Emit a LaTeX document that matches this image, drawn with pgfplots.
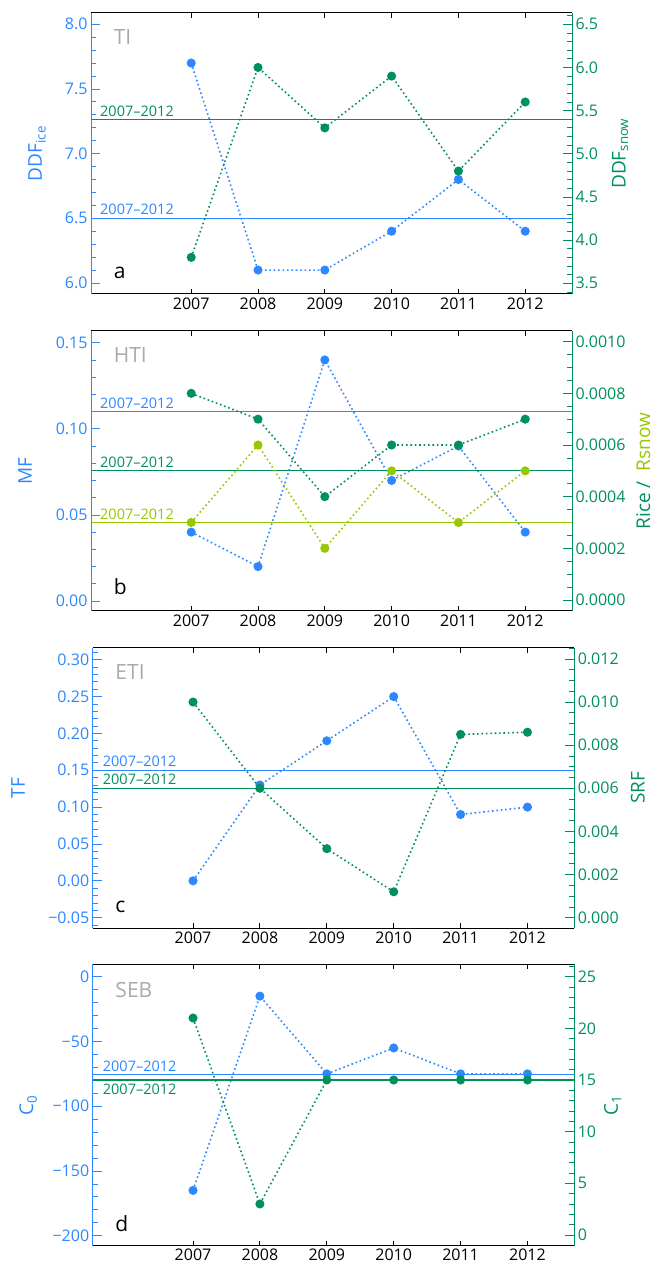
\documentclass[border=0pt]{standalone}
\usepackage{fontspec}
\setmainfont{Open Sans}
\usepackage{pgfplots}
\pgfplotsset{compat=1.18}
\definecolor{cblue}{RGB}{45,135,255}
\definecolor{cgreen}{RGB}{0,145,90}
\definecolor{clime}{RGB}{150,200,0}
\definecolor{cgray}{RGB}{170,170,170}
\newcommand{\tfont}{\fontsize{16}{18}\selectfont}
\newcommand{\lfont}{\fontsize{19}{22}\selectfont}
\newcommand{\sfont}{\fontsize{14.5}{16}\selectfont}
\newcommand{\bfontt}{\fontsize{21}{24}\selectfont}
\pgfplotsset{
  common/.style={scale only axis, width=481pt, height=281pt, xmin=2005.5, xmax=2012.7,
    tick align=inside, major tick length=9pt, minor tick length=5pt,
    ticklabel style={font=\tfont}, scaled y ticks=false, scaled x ticks=false,
    /pgf/number format/assume math mode=true, clip=false},
  leftax/.style={common, axis x line=box, axis y line*=left,
    x axis line style={black, line width=1pt, -},
    y axis line style={cblue, line width=1pt, -},
    xtick={2007,2008,2009,2010,2011,2012}, xticklabels={2007,2008,2009,2010,2011,2012},
    xtick pos=both, xticklabel pos=lower,
    xtick style={black, line width=1pt, /pgfplots/major tick length=5pt},
    xticklabel style={black},
    ytick style={cblue, line width=0.8pt},
    minor y tick style={cblue, line width=0.8pt},
    yticklabel style={cblue}},
  rightax/.style={common, axis x line=none, axis y line*=right, xtick=\empty,
    y axis line style={cgreen, line width=1pt, -},
    ytick style={cgreen, line width=0.8pt},
    minor y tick style={cgreen, line width=0.8pt},
    yticklabel style={cgreen}},
  ser/.style={mark=*, mark size=3.7pt, line width=1.6pt, dash pattern=on 1.6pt off 2.8pt, mark options={solid}},
  mean/.style={line width=1.2pt, no marks},
}
\begin{document}
\begin{tikzpicture}
\path[use as bounding box] (0,0) rectangle (655pt,1268pt);
% ---------------- panel a ----------------
\begin{axis}[leftax, at={(91pt,974pt)}, anchor=south west, height=281pt,
  ymin=5.915, ymax=8.087, ytick={6.0,6.5,7.0,7.5,8.0}, yticklabels={6.0,6.5,7.0,7.5,8.0},
  minor ytick={6.1,6.2,6.3,6.4,6.6,6.7,6.8,6.9,7.1,7.2,7.3,7.4,7.6,7.7,7.8,7.9}]
\addplot[mean, cblue] coordinates {(2005.5,6.5) (2012.7,6.5)};
\addplot[ser, cblue] coordinates {(2007,7.7) (2008,6.1) (2009,6.1) (2010,6.4) (2011,6.8) (2012,6.4)};
\node[anchor=south west, inner sep=0pt, font=\sfont, text=cblue, xshift=9pt, yshift=3pt] at (axis cs:2005.5,6.5) {2007–2012};
\node[anchor=west, font=\bfontt, text=cgray] at (axis description cs:0.04,0.915) {TI};
\node[anchor=west, font=\bfontt] at (axis description cs:0.04,0.075) {a};
\node[rotate=90, font=\lfont, text=cblue] at (axis description cs:-0.112,0.5) {DDF\textsubscript{ice}};
\end{axis}
\begin{axis}[rightax, at={(91pt,974pt)}, anchor=south west, height=281pt,
  ymin=3.376, ymax=6.631, ytick={3.5,4.0,4.5,5.0,5.5,6.0,6.5}, yticklabels={3.5,4.0,4.5,5.0,5.5,6.0,6.5},
  minor ytick={3.4,3.6,3.7,3.8,3.9,4.1,4.2,4.3,4.4,4.6,4.7,4.8,4.9,5.1,5.2,5.3,5.4,5.6,5.7,5.8,5.9,6.1,6.2,6.3,6.4,6.6}]
\addplot[mean, cgreen] coordinates {(2005.5,5.4) (2012.7,5.4)};
\addplot[ser, cgreen] coordinates {(2007,3.8) (2008,6.0) (2009,5.3) (2010,5.9) (2011,4.8) (2012,5.6)};
\node[anchor=south west, inner sep=0pt, font=\sfont, text=cgreen, xshift=9pt, yshift=2.5pt] at (axis cs:2005.5,5.4) {2007–2012};
\node[rotate=90, font=\lfont, text=cgreen] at (axis description cs:1.100,0.5) {DDF\textsubscript{snow}};
\end{axis}
% ---------------- panel b ----------------
\begin{axis}[leftax, at={(91pt,657pt)}, anchor=south west, height=280pt,
  ymin=-0.0058, ymax=0.1568, ytick={0,0.05,0.10,0.15}, yticklabels={0.00,0.05,0.10,0.15},
  minor ytick={0.01,0.02,0.03,0.04,0.06,0.07,0.08,0.09,0.11,0.12,0.13,0.14}]
\addplot[mean, cblue] coordinates {(2005.5,0.11) (2012.7,0.11)};
\addplot[ser, cblue] coordinates {(2007,0.04) (2008,0.02) (2009,0.14) (2010,0.07) (2011,0.09) (2012,0.04)};
\node[anchor=south west, inner sep=0pt, font=\sfont, text=cblue, xshift=9pt, yshift=3pt] at (axis cs:2005.5,0.11) {2007–2012};
\node[anchor=west, font=\bfontt, text=cgray] at (axis description cs:0.04,0.914) {HTI};
\node[anchor=west, font=\bfontt] at (axis description cs:0.04,0.086) {b};
\node[rotate=90, font=\lfont, text=cblue] at (axis description cs:-0.137,0.5) {MF};
\end{axis}
\begin{axis}[rightax, at={(91pt,657pt)}, anchor=south west, height=280pt,
  ymin=-0.0000426, ymax=0.0010414, ytick={0,0.0002,0.0004,0.0006,0.0008,0.0010},
  yticklabels={0.0000,0.0002,0.0004,0.0006,0.0008,0.0010},
  minor ytick={0.00005,0.0001,0.00015,0.00025,0.0003,0.00035,0.00045,0.0005,0.00055,0.00065,0.0007,0.00075,0.00085,0.0009,0.00095}]
\addplot[mean, cgreen] coordinates {(2005.5,0.0005) (2012.7,0.0005)};
\addplot[mean, clime] coordinates {(2005.5,0.0003) (2012.7,0.0003)};
\addplot[ser, cgreen] coordinates {(2007,0.0008) (2008,0.0007) (2009,0.0004) (2010,0.0006) (2011,0.0006) (2012,0.0007)};
\addplot[ser, clime] coordinates {(2007,0.0003) (2008,0.0006) (2009,0.0002) (2010,0.0005) (2011,0.0003) (2012,0.0005)};
\node[anchor=south west, inner sep=0pt, font=\sfont, text=cgreen, xshift=9pt, yshift=3pt] at (axis cs:2005.5,0.0005) {2007–2012};
\node[anchor=south west, inner sep=0pt, font=\sfont, text=clime, xshift=9pt, yshift=2.5pt] at (axis cs:2005.5,0.0003) {2007–2012};
\node[rotate=90, font=\lfont, inner sep=0pt] at (axis description cs:1.148,0.5) {\textcolor{cgreen}{Rice /}\ \ \textcolor{clime}{Rsnow}};
\end{axis}
% ---------------- panel c ----------------
\begin{axis}[leftax, at={(92.7pt,339.7pt)}, anchor=south west, width=481.6pt, height=280.6pt,
  ymin=-0.0644, ymax=0.3163, ytick={-0.05,0,0.05,0.10,0.15,0.20,0.25,0.30},
  yticklabels={−0.05,0.00,0.05,0.10,0.15,0.20,0.25,0.30},
  minor ytick={-0.06,-0.04,-0.03,-0.02,-0.01,0.01,0.02,0.03,0.04,0.06,0.07,0.08,0.09,0.11,0.12,0.13,0.14,0.16,0.17,0.18,0.19,0.21,0.22,0.23,0.24,0.26,0.27,0.28,0.29,0.31}]
\addplot[mean, cblue] coordinates {(2005.5,0.15) (2012.7,0.15)};
\addplot[ser, cblue] coordinates {(2007,0.00) (2008,0.13) (2009,0.19) (2010,0.25) (2011,0.09) (2012,0.10)};
\node[anchor=south west, inner sep=0pt, font=\sfont, text=cblue, xshift=10pt, yshift=3.5pt] at (axis cs:2005.5,0.15) {2007–2012};
\node[anchor=west, font=\bfontt, text=cgray] at (axis description cs:0.04,0.912) {ETI};
\node[anchor=west, font=\bfontt] at (axis description cs:0.04,0.075) {c};
\node[rotate=90, font=\lfont, text=cblue] at (axis description cs:-0.155,0.5) {TF};
\end{axis}
\begin{axis}[rightax, at={(92.7pt,339.7pt)}, anchor=south west, width=481.6pt, height=280.6pt,
  ymin=-0.000492, ymax=0.01252, ytick={0,0.002,0.004,0.006,0.008,0.010,0.012},
  yticklabels={0.000,0.002,0.004,0.006,0.008,0.010,0.012},
  minor ytick={0.0005,0.001,0.0015,0.0025,0.003,0.0035,0.0045,0.005,0.0055,0.0065,0.007,0.0075,0.0085,0.009,0.0095,0.0105,0.011,0.0115,0.0125}]
\addplot[mean, cgreen] coordinates {(2005.5,0.006) (2012.7,0.006)};
\addplot[ser, cgreen] coordinates {(2007,0.010) (2008,0.006) (2009,0.0032) (2010,0.0012) (2011,0.0085) (2012,0.0086)};
\node[anchor=south west, inner sep=0pt, font=\sfont, text=cgreen, xshift=10pt, yshift=3pt] at (axis cs:2005.5,0.006) {2007–2012};
\node[rotate=90, font=\lfont, text=cgreen] at (axis description cs:1.132,0.5) {SRF};
\end{axis}
% ---------------- panel d ----------------
\begin{axis}[leftax, at={(92.7pt,22.3pt)}, anchor=south west, width=481.6pt, height=281.4pt,
  ymin=-207.7, ymax=9.6, ytick={-200,-150,-100,-50,0},
  yticklabels={−200,−150,−100,−50,0},
  minor ytick={-190,-180,-170,-160,-140,-130,-120,-110,-90,-80,-70,-60,-40,-30,-20,-10}]
\addplot[mean, cblue] coordinates {(2005.5,-75.5) (2012.7,-75.5)};
\addplot[ser, cblue] coordinates {(2007,-165) (2008,-15) (2009,-75) (2010,-55) (2011,-75) (2012,-75)};
\node[anchor=south west, inner sep=0pt, font=\sfont, text=cblue, xshift=10pt, yshift=3pt] at (axis cs:2005.5,-75.5) {2007–2012};
\node[anchor=west, font=\bfontt, text=cgray] at (axis description cs:0.04,0.909) {SEB};
\node[anchor=west, font=\bfontt] at (axis description cs:0.04,0.08) {d};
\node[rotate=90, font=\lfont, text=cblue] at (axis description cs:-0.134,0.5) {C\textsubscript{0}};
\end{axis}
\begin{axis}[rightax, at={(92.7pt,22.3pt)}, anchor=south west, width=481.6pt, height=281.4pt,
  ymin=-1.04, ymax=26.2, ytick={0,5,10,15,20,25}, yticklabels={0,5,10,15,20,25},
  minor ytick={1,2,3,4,6,7,8,9,11,12,13,14,16,17,18,19,21,22,23,24,26}]
\addplot[mean, cgreen] coordinates {(2005.5,15) (2012.7,15)};
\addplot[ser, cgreen] coordinates {(2007,21) (2008,3) (2009,15) (2010,15) (2011,15) (2012,15)};
\node[anchor=north west, inner sep=0pt, font=\sfont, text=cgreen, xshift=10pt, yshift=-3.5pt] at (axis cs:2005.5,15) {2007–2012};
\node[rotate=90, font=\lfont, text=cgreen] at (axis description cs:1.080,0.5) {C\textsubscript{1}};
\end{axis}
\end{tikzpicture}
\end{document}
